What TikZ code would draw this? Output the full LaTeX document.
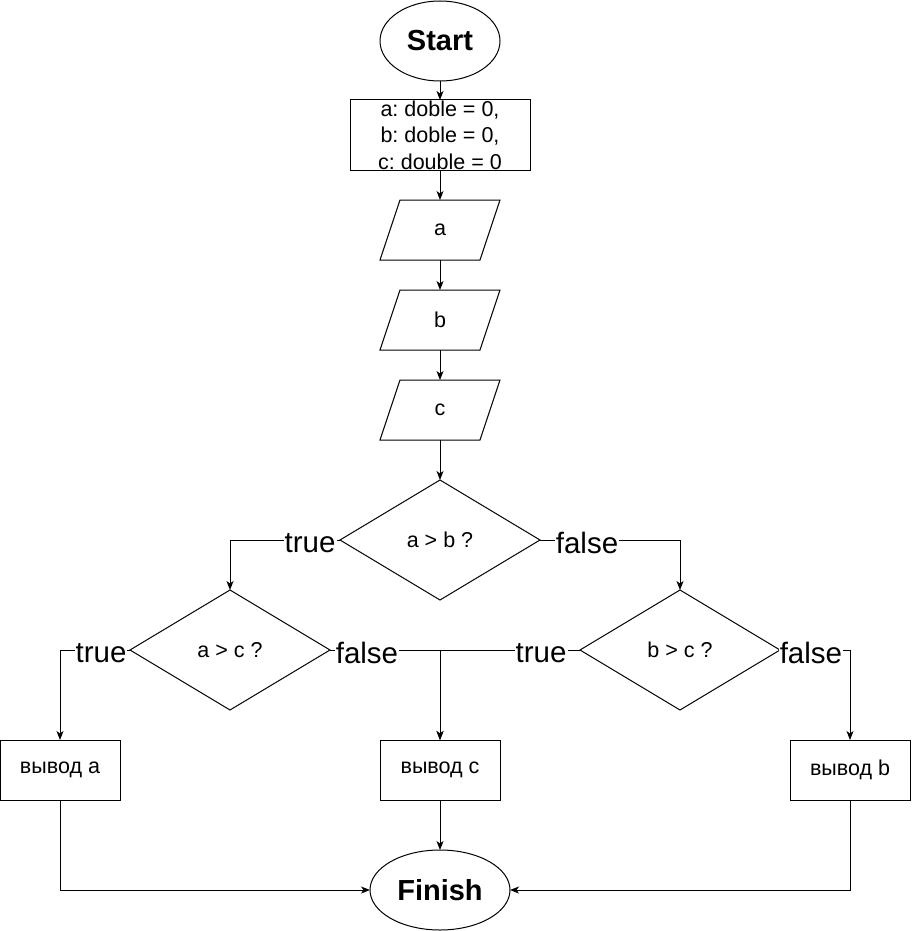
\documentclass[tikz,border=0pt]{standalone}
\usepackage{fontspec}
\setmainfont{Liberation Sans}
\frenchspacing
\usetikzlibrary{shapes.geometric,arrows.meta,calc}
\begin{document}
\begin{tikzpicture}[x=1pt,y=-1pt,
  line width=1pt,
  arr/.style={-{Stealth[length=9pt,width=7pt,inset=2.5pt]}},
  base/.style={draw, line width=1pt, inner sep=0pt, outer sep=0pt, font=\fontsize{21.5}{26.5}\selectfont},
  term/.style={base, ellipse, font=\fontsize{29}{32}\selectfont\bfseries},
  box/.style={base, rectangle},
  para/.style={rectangle, inner sep=0pt, outer sep=0pt, minimum width=120pt, minimum height=60pt, font=\fontsize{21.5}{26.5}\selectfont},
  dec/.style={base, diamond, minimum width=200pt, minimum height=120pt},
  lbl/.style={fill=white, inner sep=1pt, yshift=-3pt, font=\fontsize{29.5}{32}\selectfont}
]
\useasboundingbox (0,0) rectangle (911,931);

\node[term, minimum width=120pt, minimum height=80pt] (start) at (440,41) {Start};
\node[box, minimum width=180pt, minimum height=70pt, align=center] (init) at (440,135)
  {a: doble = 0,\\b: doble = 0,\\c: double = 0};
\node[para] (pa) at (440,230) {a};
\node[para] (pb) at (440,320) {b};
\node[para] (pc) at (440,410) {c};
\foreach \p in {pa,pb,pc}{
  \draw ($(\p.north west)+(20,0)$) -- (\p.north east) -- ($(\p.south east)+(-20,0)$) -- (\p.south west) -- cycle;
}
\node[dec] (d1) at (440,540) {a > b ?};
\node[dec] (d2) at (230,650) {a > c ?};
\node[dec] (d3) at (680,650) {b > c ?};
\node[box, minimum width=120pt, minimum height=60pt] (oa) at (60,770) {вывод a};
\node[box, minimum width=120pt, minimum height=60pt] (oc) at (440,770) {вывод c};
\node[box, minimum width=120pt, minimum height=60pt] (ob) at (850,770) {вывод b};
\node[term, minimum width=140pt, minimum height=80pt] (fin) at (440,890) {Finish};

\draw[arr] (start) -- (init);
\draw[arr] (init) -- (pa);
\draw[arr] (pa) -- (pb);
\draw[arr] (pb) -- (pc);
\draw[arr] (pc) -- (d1);

\draw[arr] (d1.west) -| node[lbl, pos=0.136] {true} (d2.north);
\draw[arr] (d1.east) -| node[lbl, pos=0.168] {false} (d3.north);
\draw[arr] (d2.west) -| node[lbl, pos=0.207] {true} (oa.north);
\draw[arr] (d2.east) -| node[lbl, pos=0.168] {false} (oc.north);
\draw[arr] (d3.west) -| node[lbl, pos=0.139] {true} (oc.north);
\draw[arr] (d3.east) -| node[lbl, pos=0.221] {false} (ob.north);

\draw[arr] (oa.south) |- (fin.west);
\draw[arr] (oc.south) -- (fin.north);
\draw[arr] (ob.south) |- (fin.east);
\end{tikzpicture}
\end{document}
